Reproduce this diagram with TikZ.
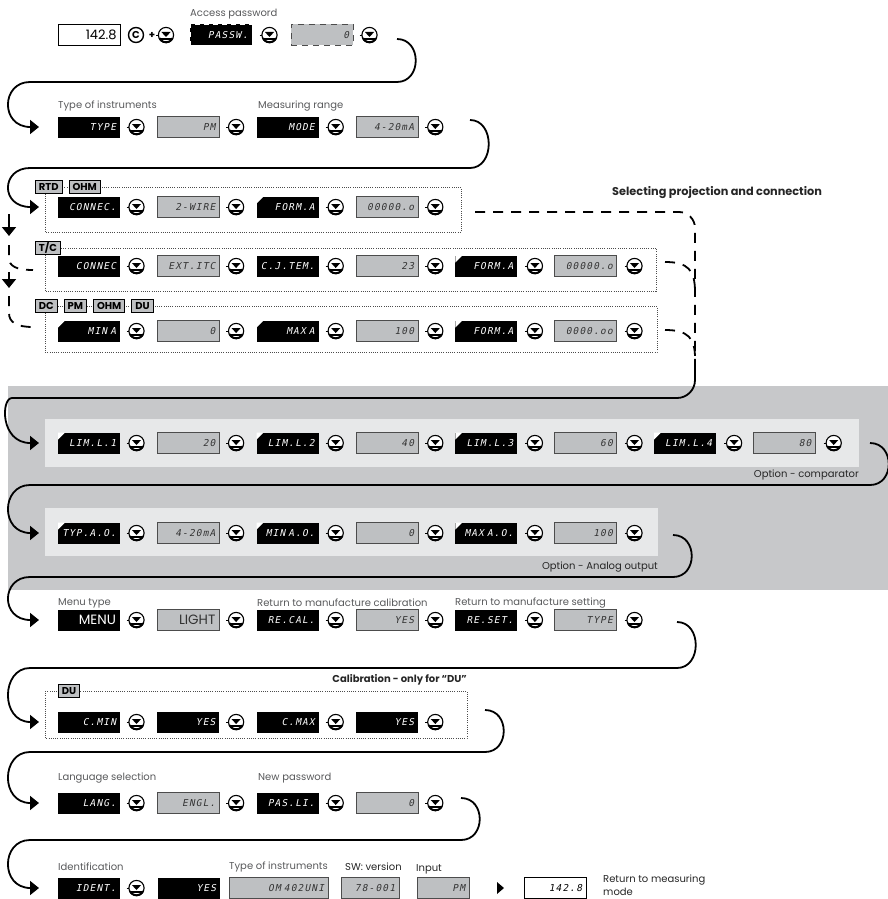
\documentclass[tikz,border=0pt]{standalone}
\usepackage{fontspec}
\setmainfont{Poppins}
\newfontfamily\lcdfont[FakeSlant=0.2,LetterSpace=12]{DejaVu Sans Mono}
\usepackage{tikz}
\usetikzlibrary{positioning,arrows.meta}

\definecolor{bandgray}{RGB}{199,200,202}
\definecolor{panelgray}{RGB}{231,232,233}
\definecolor{lcdgray}{RGB}{190,192,194}
\definecolor{notegray}{RGB}{88,89,91}

\begin{document}
\begin{tikzpicture}[x=1pt, y=-1pt,
  lcd/.style={minimum height=21pt, text width=54pt, inner xsep=4pt, inner ysep=0pt,
    align=right, font=\lcdfont\fontsize{9.5}{9.5}\selectfont},
  darkbox/.style={lcd, fill=black, text=white},
  darkcorner/.style={darkbox, path picture={
    \fill[white] (path picture bounding box.north west) -- ++(7pt,0pt) -- ++(-7pt,-7pt) -- cycle;}},
  graybox/.style={lcd, fill=lcdgray, draw=black!70, line width=0.7pt, text=black!80},
  darkword/.style={darkbox, font=\fontsize{13.5}{13.5}\selectfont},
  grayword/.style={graybox, font=\fontsize{13.5}{13.5}\selectfont},
  tag/.style={fill=lcdgray, draw=black, line width=0.9pt, inner xsep=3.5pt, inner ysep=0pt,
    minimum height=13pt, font=\bfseries\fontsize{10}{10}\selectfont},
  groupbox/.style={draw=black!70, line width=0.7pt, dash pattern=on 0.7pt off 1.5pt},
  note/.style={anchor=west, inner sep=0pt, text=notegray, font=\fontsize{10}{12}\selectfont},
  heading/.style={inner sep=0pt, text=black!85, font=\fontsize{10}{10}\selectfont\bfseries},
  flow/.style={line width=1.8pt},
  flowdash/.style={flow, dash pattern=on 10pt off 8pt},
  flowtip/.style={-{Triangle[length=9pt,width=14pt]}},
  btn/.pic={
    \draw[line width=1.1pt, fill=white] (0,0) circle (7.6pt);
    \draw[line width=2pt] (205:7.3pt) arc (205:335:7.3pt);
    \fill (-4.6pt,3pt) -- (4.6pt,3pt) -- (0pt,-2pt) -- cycle;
    \fill (-5.5pt,-3pt) rectangle (5.5pt,-4.6pt);
    \draw[line width=0.6pt] (-10pt,0pt) -- (-7.6pt,0pt);
  }]
\useasboundingbox (0,0) rectangle (888,899);

% options band
\fill[bandgray] (8,386) rectangle (888,590);
\fill[panelgray] (45,419) rectangle (859,467);
\fill[panelgray] (45,508) rectangle (658,556);

% entry into the menu
\node[note] at (190,14) {Access password};
\node[draw, fill=white, line width=0.7pt, minimum height=21pt, text width=54pt, inner xsep=4pt,
  align=right, font=\fontsize{13}{13}\selectfont] (meas) at (89.5,35) {142.8};
\node[circle, draw, line width=1.4pt, minimum size=15pt, inner sep=0pt,
  font=\bfseries\fontsize{10}{10}\selectfont] (clear) at (136,35) {C};
\node[font=\bfseries] (plus) at (152,35) {+};
\pic at (166,35) {btn};
\node[darkbox, draw=white, dash pattern=on 5pt off 4pt] (passw) at (221,35) {PASSW.};
\pic at (269.5,35) {btn};
\node[graybox, dash pattern=on 6pt off 5pt] (pass0) at (322,35) {0};
\pic at (369.5,35) {btn};

% type and range
\node[note] at (58,106) {Type of instruments};
\node[note] at (258,106) {Measuring range};
\foreach \s/\t [count=\i] in {darkbox/TYPE, graybox/PM, darkbox/MODE, graybox/4-20mA}{
  \node[\s] (type\i) at ({89+99.35*(\i-1)},127) {\t};
  \pic at ({136.5+99.6*(\i-1)},127) {btn};
}

% RTD / OHM
\draw[groupbox] (45,187) rectangle (461,232);
\node[tag, anchor=west] (rtd) at (35,187) {RTD};
\node[tag, right=6pt of rtd] (ohm) {OHM};
\foreach \s/\t [count=\i] in {darkbox/CONNEC., graybox/2-WIRE, darkcorner/FORM.A, graybox/00000.o}{
  \node[\s] (rtd\i) at ({89+99.35*(\i-1)},207) {\t};
  \pic at ({136.5+99.6*(\i-1)},207) {btn};
}
\node[heading, anchor=west, font=\fontsize{11.3}{11.3}\selectfont\bfseries] at (612,193)
  {Selecting projection and connection};

% T/C
\draw[groupbox] (45,248) rectangle (656,291);
\node[tag, anchor=west] (tc) at (35,248) {T/C};
\foreach \s/\t [count=\i] in {darkbox/CONNEC, graybox/EXT.ITC, darkbox/C.J.TEM., graybox/23,
    darkcorner/FORM.A, graybox/00000.o}{
  \node[\s] (tc\i) at ({89+99.35*(\i-1)},266) {\t};
  \pic at ({136.5+99.6*(\i-1)},266) {btn};
}

% DC / PM / OHM / DU
\draw[groupbox] (45,306) rectangle (657,352);
\node[tag, anchor=west] (dc) at (35,306) {DC};
\node[tag, right=6pt of dc] (pm) {PM};
\node[tag, right=6pt of pm] (ohmb) {OHM};
\node[tag, right=6pt of ohmb] (du) {DU};
\foreach \s/\t [count=\i] in {darkcorner/MIN A, graybox/0, darkcorner/MAX A, graybox/100,
    darkcorner/FORM.A, graybox/0000.oo}{
  \node[\s] (dc\i) at ({89+99.35*(\i-1)},331) {\t};
  \pic at ({136.5+99.6*(\i-1)},331) {btn};
}

% comparator
\foreach \s/\t [count=\i] in {darkcorner/LIM.L.1, graybox/20, darkcorner/LIM.L.2, graybox/40,
    darkcorner/LIM.L.3, graybox/60, darkcorner/LIM.L.4, graybox/80}{
  \node[\s] (lim\i) at ({89+99.35*(\i-1)},443) {\t};
  \pic at ({136.5+99.6*(\i-1)},443) {btn};
}
\node[note, anchor=east, text=black!85] at (859,475) {Option - comparator};

% analog output
\foreach \s/\t [count=\i] in {darkcorner/TYP.A.O., graybox/4-20mA, darkcorner/MIN A.O., graybox/0,
    darkcorner/MAX A.O., graybox/100}{
  \node[\s] (ao\i) at ({89+99.35*(\i-1)},533) {\t};
  \pic at ({136.5+99.6*(\i-1)},533) {btn};
}
\node[note, anchor=east, text=black!85] at (658,567) {Option - Analog output};

% menu, calibration, setting
\node[note] at (58,603) {Menu type};
\node[note] at (257,603) {Return to manufacture calibration};
\node[note] at (455,603) {Return to manufacture setting};
\foreach \s/\t [count=\i] in {darkword/MENU, grayword/LIGHT, darkbox/RE.CAL., graybox/YES,
    darkbox/RE.SET., graybox/TYPE}{
  \node[\s] (menu\i) at ({89+99.35*(\i-1)},620) {\t};
  \pic at ({136.5+99.6*(\i-1)},620) {btn};
}

% calibration DU
\draw[groupbox] (45,691) rectangle (467,738);
\node[tag, anchor=west] (dutag) at (58,691) {DU};
\node[heading, anchor=east] at (467,680) {Calibration - only for \textquotedblleft DU\textquotedblright};
\foreach \s/\t [count=\i] in {darkbox/C.MIN, darkbox/YES, darkbox/C.MAX, darkbox/YES}{
  \node[\s] (cal\i) at ({89+99.35*(\i-1)},722) {\t};
  \pic at ({136.5+99.6*(\i-1)},722) {btn};
}

% language and password
\node[note] at (58,778) {Language selection};
\node[note] at (258,778) {New password};
\foreach \s/\t [count=\i] in {darkbox/LANG., graybox/ENGL., darkbox/PAS.LI., graybox/0}{
  \node[\s] (lang\i) at ({89+99.35*(\i-1)},803) {\t};
  \pic at ({136.5+99.6*(\i-1)},803) {btn};
}

% identification
\node[note] at (58,867) {Identification};
\node[note] at (229,867) {Type of instruments};
\node[note, text=black!85] at (345,867) {SW: version};
\node[note, text=black!85] at (416,869) {Input};
\node[darkbox] (ident) at (89,888) {IDENT.};
\pic at (136.5,888) {btn};
\node[darkbox] (idyes) at (189,888) {YES};
\node[graybox, text width=91pt] (model) at (278.5,888) {OM 402UNI};
\node[graybox, text width=50pt] (swver) at (370,888) {78-001};
\node[graybox, text width=44pt] (input) at (443,888) {PM};
\fill (497,882) -- (504,888) -- (497,894) -- cycle;
\node[lcd, draw=black, fill=white, line width=0.7pt] (back) at (555,888) {142.8};
\node[note, text=black!85] at (603,885) {\shortstack[l]{Return to measuring\\mode}};

% row to row connections
\foreach \k/\xs/\ys/\ym/\yn in {1/397/39/82/127, 2/470/120/168/207, 6/870/443/485/533,
    7/673/535/577/620, 8/677/622/668/722, 9/485/710/752/803, 10/461/798/840/888}{
  \coordinate (out\k) at (\xs,\ys);
  \coordinate (bend\k) at (30,\ym);
  \coordinate (in\k) at (39,\yn);
  \draw[flow, flowtip] (out\k) .. controls +(25,0) and +(25,0) .. (out\k |- bend\k)
    -- (bend\k) .. controls +(-29,0) and +(-39,0) .. (in\k);
}

% alternative inputs on the left
\draw[flow, flowtip] (9,214) -- (9,236);
\draw[flowdash] (9,245) -- (9,258) .. controls (9,266) and (16,270) .. (33,270);
\draw[flow, flowtip] (9,272) -- (9,288);
\draw[flowdash] (9,296) -- (9,313) .. controls (9,322) and (16,327) .. (33,327);

% outputs into the options
\coordinate (rtdout) at (475,212);
\draw[flowdash, rounded corners=16pt] (rtdout) -| (695,372);
\draw[flowdash] (665,262) .. controls (688,262) and (695,270) .. (695,292);
\draw[flowdash] (665,330) .. controls (688,330) and (695,338) .. (695,358);
\coordinate (optin) at (695,368);
\draw[flow, flowtip, rounded corners=18pt] (optin) |- (bend6 |- 0,398) [sharp corners]
  .. controls +(-29,0) and +(-39,0) .. (39,443);
\end{tikzpicture}
\end{document}
